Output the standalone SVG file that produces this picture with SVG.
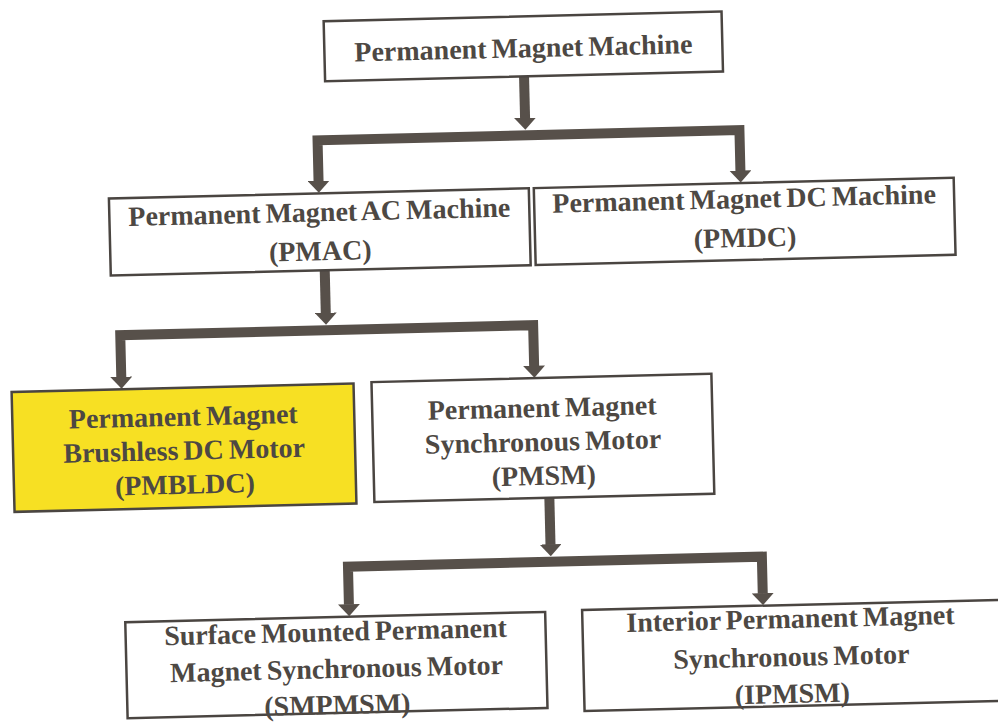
<svg xmlns="http://www.w3.org/2000/svg" width="998" height="722" viewBox="0 0 998 722">
  <defs>
    <marker id="ah" viewBox="0 0 12 22" markerWidth="12" markerHeight="22" refX="0.5" refY="11" markerUnits="userSpaceOnUse" orient="auto-start-reverse">
      <path d="M0,0 L12,11 L0,22 Z" fill="#57504a"/>
    </marker>
  </defs>
  <style>
    .box { fill: #ffffff; stroke: #4a4541; stroke-width: 2.5; }
    .hl { fill: #f7e023; }
    .t { font-family: "Liberation Serif", "Times New Roman", serif; font-weight: bold; font-size: 28px; fill: #4d4843; text-anchor: middle; word-spacing: -2px; }
    .c { fill: none; stroke: #57504a; stroke-width: 10; stroke-linejoin: miter; }
  </style>
  <rect x="0" y="0" width="998" height="722" fill="#ffffff"/>
  <g transform="rotate(-1.4 499 361)">
    <g id="connectors">
      <path class="c" d="M531,77 V119" marker-end="url(#ah)"/>
      <path class="c" d="M323,177 V136 H745 V177" marker-start="url(#ah)" marker-end="url(#ah)"/>
      <path class="c" d="M327,266 V309" marker-end="url(#ah)"/>
      <path class="c" d="M121,368 V326 H534 V367" marker-start="url(#ah)" marker-end="url(#ah)"/>
      <path class="c" d="M546,499 V546" marker-end="url(#ah)"/>
      <path class="c" d="M343,601 V563 H757 V600" marker-start="url(#ah)" marker-end="url(#ah)"/>
    </g>
    <g id="pm-machine">
      <rect class="box" x="332" y="17" width="398" height="60"/>
      <text class="t" x="531" y="58">Permanent Magnet Machine</text>
    </g>
    <g id="pmac">
      <rect class="box" x="113" y="189" width="420" height="77"/>
      <text class="t" x="323" y="217">Permanent Magnet AC Machine</text>
      <text class="t" x="323" y="256">(PMAC)</text>
    </g>
    <g id="pmdc">
      <rect class="box" x="538" y="189" width="420" height="77"/>
      <text class="t" x="748" y="214">Permanent Magnet DC Machine</text>
      <text class="t" x="748" y="253">(PMDC)</text>
    </g>
    <g id="pmbldc">
      <rect class="box hl" x="11" y="380" width="342" height="120"/>
      <text class="t" x="182" y="418">Permanent Magnet</text>
      <text class="t" x="182" y="452">Brushless DC Motor</text>
      <text class="t" x="182" y="486">(PMBLDC)</text>
    </g>
    <g id="pmsm">
      <rect class="box" x="371" y="379" width="340" height="120"/>
      <text class="t" x="541" y="418">Permanent Magnet</text>
      <text class="t" x="541" y="452">Synchronous Motor</text>
      <text class="t" x="541" y="486">(PMSM)</text>
    </g>
    <g id="smpmsm">
      <rect class="box" x="119" y="613" width="420" height="96"/>
      <text class="t" x="329" y="637">Surface Mounted Permanent</text>
      <text class="t" x="329" y="674">Magnet Synchronous Motor</text>
      <text class="t" x="329" y="710">(SMPMSM)</text>
    </g>
    <g id="ipmsm">
      <rect class="box" x="576" y="612" width="420" height="101"/>
      <text class="t" x="784" y="635">Interior Permanent Magnet</text>
      <text class="t" x="784" y="673">Synchronous Motor</text>
      <text class="t" x="784" y="710">(IPMSM)</text>
    </g>
  </g>
</svg>
